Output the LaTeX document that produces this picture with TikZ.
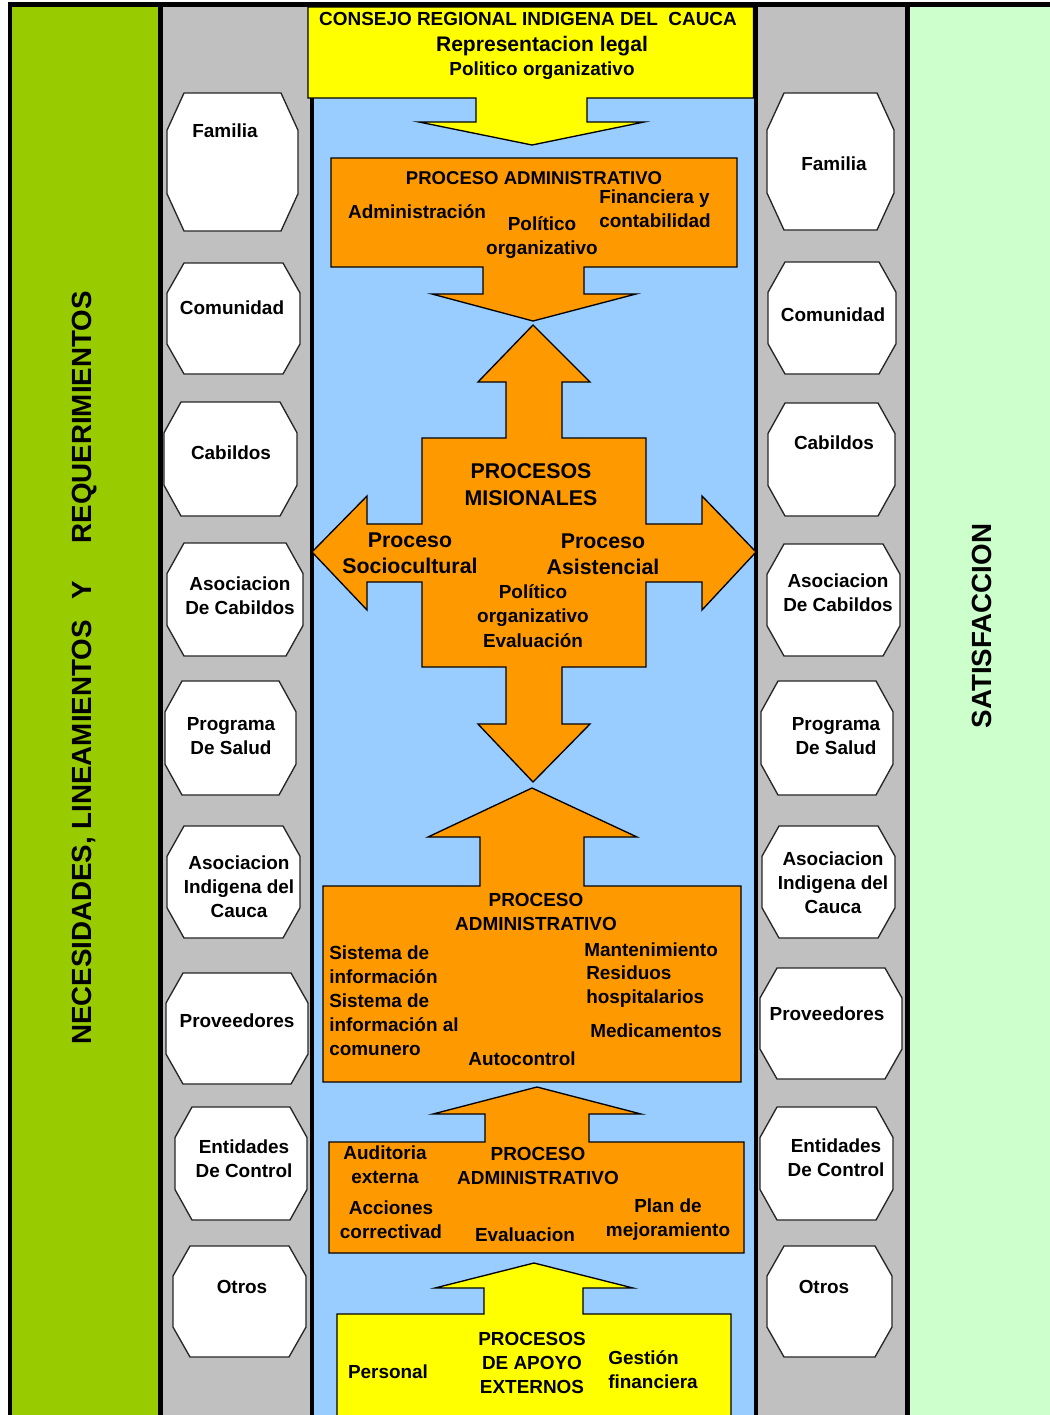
\documentclass[tikz,border=0pt]{standalone}
\usepackage{fontspec}
\setmainfont{Liberation Sans}

\definecolor{grnL}{HTML}{99CC00}
\definecolor{grnR}{HTML}{CCFFCC}
\definecolor{grayC}{HTML}{C0C0C0}
\definecolor{blueC}{HTML}{99CCFF}
\definecolor{orangeC}{HTML}{FF9900}
\definecolor{yellowC}{HTML}{FFFF00}

\tikzset{
  lbl/.style={font=\bfseries\fontsize{14.2}{18}\selectfont, align=center, inner sep=0pt, yshift=-0.8pt},
  big/.style={lbl, font=\bfseries\fontsize{16}{19.8}\selectfont},
  vert/.style={lbl, font=\bfseries\fontsize{20.8}{24}\selectfont, rotate=90},
  sep/.style={line width=3.4pt},
  box/.style={draw, line width=1pt},
  actor/.style={draw=black!85, fill=white, line width=1pt}
}

\begin{document}
\begin{tikzpicture}[x=0.75pt,y=-0.75pt]
\useasboundingbox (0,0) rectangle (1050,1415);

% columns
\fill[grnL] (10,5) rectangle (160,1418);
\fill[grayC] (160,5) rectangle (311,1418);
\fill[blueC] (311,5) rectangle (756,1418);
\fill[grayC] (756,5) rectangle (907,1418);
\fill[grnR] (907,5) rectangle (1050,1418);
\draw[sep] (10,1418) -- (10,4.5) -- (1052,4.5);
\draw[sep] (160.5,4.5) -- (160.5,1418);
\draw[sep] (312,4.5) -- (312,1418);
\draw[sep] (756,4.5) -- (756,1418);
\draw[sep] (907.5,4.5) -- (907.5,1418);

\node[vert] (necesid) at (85,667) {NECESIDADES, LINEAMIENTOS\hspace{0.75em}Y\hspace{1.35em}REQUERIMIENTOS};
\node[vert] (satisf) at (982,625) {SATISFACCION};

% octagons on both sides
\foreach \nm/\xa/\ya/\xb/\yb/\tx/\ty/\txt in {
    famL/167/93/298/231/225/130/Familia,
    comL/167/263/300/374/232/307/Comunidad,
    cabL/164/402/297/516/231/452/Cabildos,
    acabL/167/543/303/656/240/595/{Asociacion\\De Cabildos},
    psalL/165/681/296/795/231/735/{Programa\\De Salud},
    aicL/167/826/300/938/239/886/{Asociacion\\Indigena del\\Cauca},
    provL/166/973/308/1084/237/1020/Proveedores,
    entL/175/1107/307/1220/244/1158/{Entidades\\De Control},
    otrL/173/1246/306/1357/242/1286/Otros,
    famR/767/93/894/230/834/163/Familia,
    comR/768/262/896/374/833/314/Comunidad,
    cabR/768/403/895/516/834/442/Cabildos,
    acabR/767/544/900/656/838/592/{Asociacion\\De Cabildos},
    psalR/761/681/893/795/836/735/{Programa\\De Salud},
    aicR/762/826/895/938/833/882/{Asociacion\\Indigena del\\Cauca},
    provR/760/968/902/1079/827/1013/Proveedores,
    entR/760/1107/893/1220/836/1157/{Entidades\\De Control},
    otrR/767/1246/892/1357/824/1286/Otros}
{
  \draw[actor] ({\xa+17},\ya) -- ({\xb-17},\ya) -- (\xb,{\ya+0.27*(\yb-\ya)})
    -- (\xb,{\yb-0.27*(\yb-\ya)}) -- ({\xb-17},\yb) -- ({\xa+17},\yb)
    -- (\xa,{\yb-0.27*(\yb-\ya)}) -- (\xa,{\ya+0.27*(\yb-\ya)}) -- cycle;
  \node[lbl] (\nm) at (\tx,\ty) {\txt};
}

% consejo regional
\draw[box, fill=yellowC] (308,7) -- (753.5,7) -- (753.5,98) -- (587,98) -- (587,122)
  -- (644,122) -- (532,145) -- (419,122) -- (476,122) -- (476,98) -- (308,98) -- cycle;
\node[lbl] (consejo) at (528,18) {CONSEJO REGIONAL INDIGENA DEL\ \ CAUCA};
\node[lbl, font=\bfseries\fontsize{15.8}{19}\selectfont] (replegal) at (542,45) {Representacion legal};
\node[lbl] (polorg) at (542,70) {Politico organizativo};

% proceso administrativo
\draw[box, fill=orangeC] (331,158) -- (737,158) -- (737,267) -- (584,267) -- (584,294)
  -- (636,294) -- (533,321) -- (432,294) -- (483,294) -- (483,267) -- (331,267) -- cycle;
\node[lbl, font=\bfseries\fontsize{13.9}{17}\selectfont] (pa1) at (534,177) {PROCESO ADMINISTRATIVO};
\node[lbl] (adm) at (417,211) {Administración};
\node[lbl] (polorg1) at (542,236) {Político\\organizativo};
\node[lbl, anchor=west, align=left] (fin) at (599,208) {Financiera y\\contabilidad};

% procesos misionales
\draw[box, fill=orangeC] (533,325) -- (590,382) -- (562,382) -- (562,438) -- (646,438)
  -- (646,524) -- (702,524) -- (702,496) -- (756,552) -- (702,610) -- (702,582)
  -- (646,582) -- (646,667) -- (562,667) -- (562,724) -- (590,724) -- (533,782)
  -- (478,724) -- (506,724) -- (506,667) -- (422,667) -- (422,582) -- (367,582)
  -- (367,610) -- (312,552) -- (367,496) -- (367,524) -- (422,524) -- (422,438)
  -- (506,438) -- (506,382) -- (478,382) -- cycle;
\node[big, font=\bfseries\fontsize{16}{20.2}\selectfont] (misio) at (531,484) {PROCESOS\\MISIONALES};
\node[big] (socio) at (410,552) {Proceso\\Sociocultural};
\node[big] (asist) at (603,553) {Proceso\\Asistencial};
\node[lbl, font=\bfseries\fontsize{14.2}{18.4}\selectfont] (polev) at (533,615) {Político\\organizativo\\Evaluación};

% proceso administrativo (salud)
\draw[box, fill=orangeC] (532,788) -- (637,837) -- (584,837) -- (584,886) -- (741,886)
  -- (741,1082) -- (323,1082) -- (323,886) -- (480,886) -- (480,837) -- (428,837) -- cycle;
\node[lbl] (pa2) at (536,911) {PROCESO\\ADMINISTRATIVO};
\node[lbl, anchor=west, align=left] (sisinf) at (329,1000) {Sistema de\\información\\Sistema de\\información al\\comunero};
\node[lbl, anchor=west] (mant) at (584,949) {Mantenimiento};
\node[lbl, anchor=west, align=left] (resid) at (586,986) {Residuos\\hospitalarios};
\node[lbl, anchor=west] (medic) at (590,1030) {Medicamentos};
\node[lbl] (autoc) at (522,1058) {Autocontrol};

% proceso administrativo (control)
\draw[box, fill=orangeC] (537,1087) -- (641,1114) -- (589,1114) -- (589,1142) -- (744,1142)
  -- (744,1253) -- (329,1253) -- (329,1142) -- (485,1142) -- (485,1114) -- (433,1114) -- cycle;
\node[lbl] (audit) at (385,1164) {Auditoria\\externa};
\node[lbl] (pa3) at (538,1165) {PROCESO\\ADMINISTRATIVO};
\node[lbl] (acc) at (391,1219) {Acciones\\correctivad};
\node[lbl] (evalu) at (525,1234) {Evaluacion};
\node[lbl] (plan) at (668,1219) {Plan de\\mejoramiento};

% procesos de apoyo
\draw[box, fill=yellowC] (534,1263) -- (633,1288) -- (583,1288) -- (583,1314) -- (731,1314)
  -- (731,1425) -- (337,1425) -- (337,1314) -- (484,1314) -- (484,1288) -- (435,1288) -- cycle;
\node[lbl] (pers) at (388,1371) {Personal};
\node[lbl] (apoyo) at (532,1362) {PROCESOS\\DE APOYO\\EXTERNOS};
\node[lbl, anchor=west, align=left] (gest) at (608,1369) {Gestión\\financiera};
\end{tikzpicture}
\end{document}
